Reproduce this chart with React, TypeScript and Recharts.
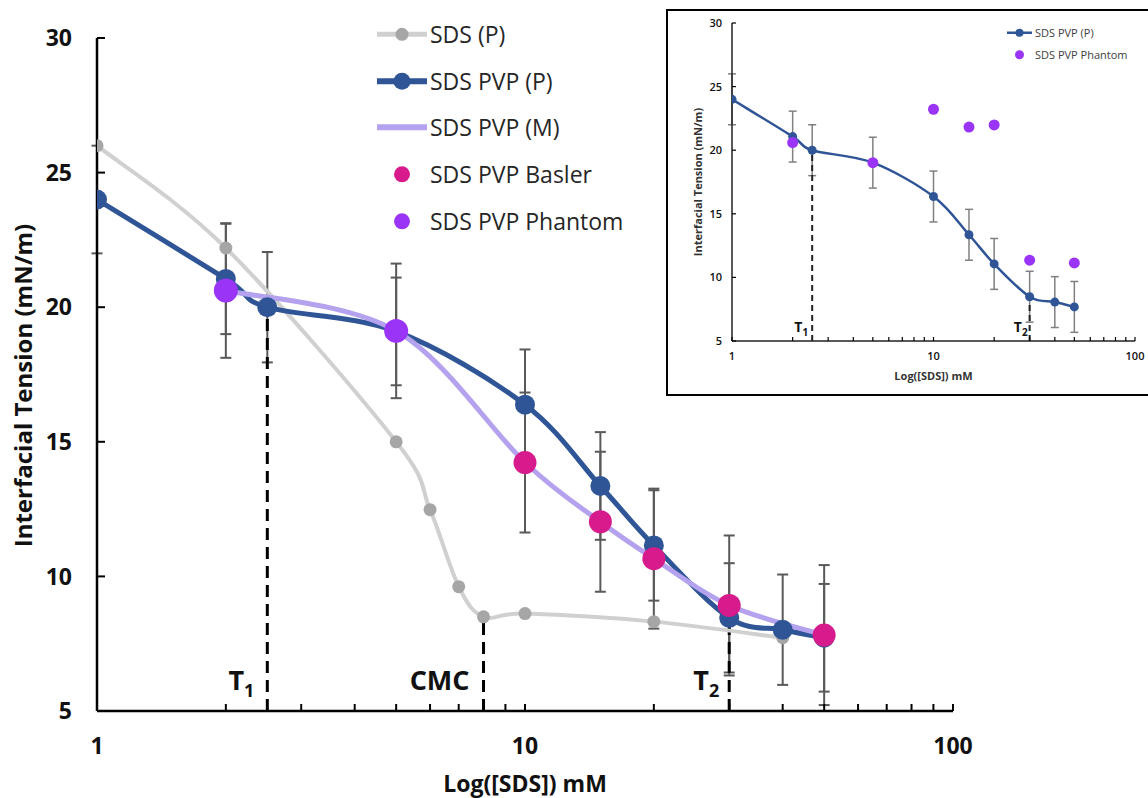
import React from 'react';
import {
  ComposedChart,
  Line,
  XAxis,
  YAxis,
  ErrorBar,
  ReferenceLine,
  ReferenceDot,
  Legend,
  Label,
} from 'recharts';

// ---------- data ----------
const X_TICKS = [1, 2, 3, 4, 5, 6, 7, 8, 9, 10, 20, 30, 40, 50, 60, 70, 80, 90, 100];
const X_LABELS = [1, 10, 100];
const Y_TICKS = [5, 10, 15, 20, 25, 30];

const sdsP = [
  { x: 1, y: 26.0 },
  { x: 2, y: 22.2 },
  { x: 5, y: 15.0 },
  { x: 6, y: 12.48 },
  { x: 7, y: 9.62 },
  { x: 8, y: 8.5 },
  { x: 10, y: 8.62 },
  { x: 20, y: 8.32 },
  { x: 40, y: 7.72 },
];

const sdsPvpP = [
  { x: 1, y: 24.0, e: 2.0 },
  { x: 2, y: 21.05, e: 2.05 },
  { x: 2.5, y: 20.0, e: 2.05 },
  { x: 5, y: 19.1, e: 2.0 },
  { x: 10, y: 16.38, e: 2.05 },
  { x: 15, y: 13.36, e: 2.0 },
  { x: 20, y: 11.15, e: 2.05 },
  { x: 30, y: 8.46, e: 2.03 },
  { x: 40, y: 8.02, e: 2.05 },
  { x: 50, y: 7.72, e: 2.0 },
];

const sdsPvpM = [
  { x: 2, y: 20.62 },
  { x: 5, y: 19.12 },
  { x: 10, y: 14.23 },
  { x: 15, y: 12.03 },
  { x: 20, y: 10.66 },
  { x: 30, y: 8.92 },
  { x: 50, y: 7.82 },
];

const basler = [
  { x: 10, y: 14.23, e: 2.6 },
  { x: 15, y: 12.03, e: 2.6 },
  { x: 20, y: 10.66, e: 2.6 },
  { x: 30, y: 8.92, e: 2.6 },
  { x: 50, y: 7.82, e: 2.6 },
];

const phantom = [
  { x: 2, y: 20.62, e: 2.5 },
  { x: 5, y: 19.12, e: 2.5 },
];

const markers = [
  { x: 2.5, top: 20.0, label: 'T', sub: '1' },
  { x: 8, top: 8.5, label: 'CMC', sub: '' },
  { x: 30, top: 8.46, label: 'T', sub: '2' },
];

// inset data
const insetPvpP = [
  { x: 1, y: 24.0, e: 2 },
  { x: 2, y: 21.07, e: 2 },
  { x: 2.5, y: 20.0, e: 2 },
  { x: 5, y: 19.02, e: 2 },
  { x: 10, y: 16.36, e: 2 },
  { x: 15, y: 13.35, e: 2 },
  { x: 20, y: 11.06, e: 2 },
  { x: 30, y: 8.48, e: 2 },
  { x: 40, y: 8.06, e: 2 },
  { x: 50, y: 7.68, e: 2 },
];

const insetPhantom = [
  { x: 2, y: 20.6 },
  { x: 5, y: 19.02 },
  { x: 10, y: 23.22 },
  { x: 15, y: 21.82 },
  { x: 20, y: 21.99 },
  { x: 30, y: 11.35 },
  { x: 50, y: 11.14 },
];

const insetMarkers = [
  { x: 2.5, top: 20.0, label: 'T', sub: '1' },
  { x: 30, top: 8.48, label: 'T', sub: '2' },
];

const MAIN_LEGEND = [
  { name: 'SDS (P)' },
  { name: 'SDS PVP (P)' },
  { name: 'SDS PVP (M)' },
  { name: 'SDS PVP Basler' },
  { name: 'SDS PVP Phantom' },
];
const INSET_LEGEND = [{ name: 'SDS PVP (P)' }, { name: 'SDS PVP Phantom' }];

// ---------- styles ----------
const FONT = "'Open Sans', 'DejaVu Sans', sans-serif";
const TXT = '#111111';
const GRAY_LINE = '#D0D0D0';
const GRAY_DOT = '#A6A6A6';
const BLUE = '#2F5597';
const LAVENDER = '#B4A2EE';
const MAGENTA = '#D81B8C';
const PURPLE = '#9A35F7';
const ERR = '#595959';

const MAIN_LEGEND_STYLE = [
  { line: GRAY_LINE, lineW: 5, dot: GRAY_DOT, r: 6.5 },
  { line: BLUE, lineW: 6, dot: BLUE, r: 8.5 },
  { line: LAVENDER, lineW: 6, dot: '', r: 0 },
  { line: '', lineW: 0, dot: MAGENTA, r: 8 },
  { line: '', lineW: 0, dot: PURPLE, r: 8 },
];
const INSET_LEGEND_STYLE = [
  { line: BLUE, lineW: 2.5, dot: BLUE, r: 4 },
  { line: '', lineW: 0, dot: PURPLE, r: 4.5 },
];
const MAIN_LABEL_GAP = [13, 14, 10];
const INSET_LABEL_GAP = [4, 2];

// Excel-like smoothed curve (Catmull-Rom through the points)
const excelCurve: any = (context: any) => {
  let pts: number[][] = [];
  return {
    areaStart() {},
    areaEnd() {},
    lineStart() {
      pts = [];
    },
    point(x: number, y: number) {
      pts.push([+x, +y]);
    },
    lineEnd() {
      const n = pts.length;
      if (!n) return;
      context.moveTo(pts[0][0], pts[0][1]);
      for (let i = 0; i < n - 1; i++) {
        const p0 = pts[Math.max(0, i - 1)];
        const p1 = pts[i];
        const p2 = pts[i + 1];
        const p3 = pts[Math.min(n - 1, i + 2)];
        context.bezierCurveTo(
          p1[0] + (p2[0] - p0[0]) / 6,
          p1[1] + (p2[1] - p0[1]) / 6,
          p2[0] - (p3[0] - p1[0]) / 6,
          p2[1] - (p3[1] - p1[1]) / 6,
          p2[0],
          p2[1]
        );
      }
    },
  };
};

// ---------- tick renderers ----------
const makeXTick = (len: number, dyLabel: number, fs: number, fw: number, sw: number) => (props: any) => {
  const { x, y, payload } = props;
  const v = payload.value;
  return (
    <g>
      <line x1={x} x2={x} y1={y} y2={y - len} stroke="#000" strokeWidth={sw} />
      {X_LABELS.includes(v) && (
        <text x={x} y={y + dyLabel} textAnchor="middle" fontSize={fs} fontWeight={fw} fill={TXT} fontFamily={FONT}>
          {v}
        </text>
      )}
    </g>
  );
};

const makeYTick = (len: number, gap: number, fs: number, fw: number, sw: number) => (props: any) => {
  const { x, y, payload } = props;
  return (
    <g>
      <line x1={x} x2={x + len} y1={y} y2={y} stroke="#000" strokeWidth={sw} />
      <text x={x - gap} y={y} dy="0.36em" textAnchor="end" fontSize={fs} fontWeight={fw} fill={TXT} fontFamily={FONT}>
        {payload.value}
      </text>
    </g>
  );
};

const MainXTick = makeXTick(7, 43, 23, 700, 2);
const MainYTick = makeYTick(8, 25, 23, 700, 2);
const InsetXTick = makeXTick(4, 19, 11, 600, 1.2);
const InsetYTick = makeYTick(4, 10, 11, 600, 1.2);

const markerLabel = (m: any, gap: number, fs: number, subFs: number, rise: number, subDy: number) => (p: any) => {
  const { cx, cy } = p;
  return (
    <text x={cx - gap} y={cy - rise} textAnchor="end" fontSize={fs} fontWeight={700} fill={TXT} fontFamily={FONT}>
      {m.label}
      {m.sub ? (
        <tspan fontSize={subFs} dy={subDy}>
          {m.sub}
        </tspan>
      ) : null}
    </text>
  );
};

// ---------- legends ----------
const LegendBox = ({ items, styles, rowH, iconW, fs, color }: any) => (
  <div style={{ fontFamily: FONT, fontSize: fs, color, lineHeight: 1 }}>
    {items.map((it: any, i: number) => {
      const s = styles[i];
      return (
        <div key={it.name} style={{ display: 'flex', alignItems: 'center', height: rowH, whiteSpace: 'nowrap' }}>
          <svg width={iconW} height={rowH} style={{ display: 'block', marginRight: 3 }}>
            {s.line ? (
              <line x1={0} x2={iconW} y1={rowH / 2} y2={rowH / 2} stroke={s.line} strokeWidth={s.lineW} strokeLinecap="round" />
            ) : null}
            {s.dot ? <circle cx={iconW / 2} cy={rowH / 2} r={s.r} fill={s.dot} /> : null}
          </svg>
          <span>{it.name}</span>
        </div>
      );
    })}
  </div>
);

export default function App() {
  return (
    <div
      style={{
        position: 'absolute',
        left: 0,
        top: 0,
        width: 1148,
        height: 798,
        overflow: 'hidden',
        background: '#fff',
      }}
    >
      <ComposedChart width={1148} height={798} margin={{ top: 38, left: 96, right: 195, bottom: 86 }}>
        <XAxis
          type="number"
          dataKey="x"
          scale="log"
          domain={[1, 100]}
          ticks={X_TICKS}
          interval={0}
          allowDataOverflow
          height={1}
          tickSize={0}
          tickMargin={0}
          tickLine={false}
          tick={<MainXTick />}
          axisLine={{ stroke: '#000', strokeWidth: 2.5 }}
        >
          <Label
            content={(p: any) => {
              const vb = p.viewBox || {};
              return (
                <text
                  x={vb.x + vb.width / 2}
                  y={vb.y + 81}
                  textAnchor="middle"
                  fontSize={23}
                  fontWeight={700}
                  fill={TXT}
                  fontFamily={FONT}
                >
                  Log([SDS]) mM
                </text>
              );
            }}
          />
        </XAxis>
        <YAxis
          type="number"
          domain={[5, 30]}
          ticks={Y_TICKS}
          interval={0}
          allowDataOverflow
          width={1}
          tickSize={0}
          tickMargin={0}
          tickLine={false}
          tick={<MainYTick />}
          axisLine={{ stroke: '#000', strokeWidth: 2.5 }}
        >
          <Label
            content={(p: any) => {
              const vb = p.viewBox || {};
              const cx = vb.x + vb.width - 73;
              const cy = vb.y + vb.height / 2 + 11;
              return (
                <text
                  transform={`translate(${cx},${cy}) rotate(-90)`}
                  textAnchor="middle"
                  dy="0.35em"
                  fontSize={24}
                  fontWeight={700}
                  fill={TXT}
                  fontFamily={FONT}
                >
                  Interfacial Tension (mN/m)
                </text>
              );
            }}
          />
        </YAxis>

        {markers.map((m, i) => (
          <ReferenceLine
            key={'rl' + i}
            segment={[
              { x: m.x, y: 5 },
              { x: m.x, y: m.top },
            ]}
            stroke="#000"
            strokeWidth={3}
            strokeDasharray="12 7"
            ifOverflow="visible"
          />
        ))}
        {markers.map((m, i) => (
          <ReferenceDot
            key={'rd' + i}
            x={m.x}
            y={5}
            r={0}
            ifOverflow="visible"
            shape={markerLabel(m, MAIN_LABEL_GAP[i], 27, 18, 21, 7)}
          />
        ))}

        <Line
          data={sdsP}
          dataKey="y"
          type={excelCurve}
          stroke={GRAY_LINE}
          strokeWidth={4}
          dot={{ r: 6.5, fill: GRAY_DOT, stroke: 'none' }}
          activeDot={false}
          isAnimationActive={false}
        />
        <Line
          data={sdsPvpP}
          dataKey="y"
          type={excelCurve}
          stroke={BLUE}
          strokeWidth={5}
          dot={{ r: 10, fill: BLUE, stroke: 'none' }}
          activeDot={false}
          isAnimationActive={false}
        >
          <ErrorBar dataKey="e" direction="y" width={5.5} stroke={ERR} strokeWidth={2} zIndex={-10} isAnimationActive={false} />
        </Line>
        <Line
          data={sdsPvpM}
          dataKey="y"
          type={excelCurve}
          stroke={LAVENDER}
          strokeWidth={5}
          dot={false}
          activeDot={false}
          isAnimationActive={false}
        />
        <Line
          data={basler}
          dataKey="y"
          stroke="none"
          strokeWidth={0}
          dot={{ r: 11.5, fill: MAGENTA, stroke: 'none' }}
          activeDot={false}
          isAnimationActive={false}
        >
          <ErrorBar dataKey="e" direction="y" width={5.5} stroke={ERR} strokeWidth={2} zIndex={-10} isAnimationActive={false} />
        </Line>
        <Line
          data={phantom}
          dataKey="y"
          stroke="none"
          strokeWidth={0}
          dot={{ r: 12, fill: PURPLE, stroke: 'none' }}
          activeDot={false}
          isAnimationActive={false}
        >
          <ErrorBar dataKey="e" direction="y" width={5.5} stroke={ERR} strokeWidth={2} zIndex={-10} isAnimationActive={false} />
        </Line>

        <Legend
          layout="vertical"
          verticalAlign="middle"
          align="center"
          wrapperStyle={{ left: 377, top: 11, width: 320, height: 236 }}
          content={() => (
            <LegendBox items={MAIN_LEGEND} styles={MAIN_LEGEND_STYLE} rowH={46.7} iconW={50} fs={23} color="#262626" />
          )}
        />
      </ComposedChart>

      <div
        style={{
          position: 'absolute',
          left: 666,
          top: 9,
          width: 490,
          height: 387,
          border: '2px solid #000',
          boxSizing: 'border-box',
          background: '#fff',
        }}
      >
        <ComposedChart width={486} height={383} margin={{ top: 12, left: 63, right: 19, bottom: 52 }}>
          <XAxis
            type="number"
            dataKey="x"
            scale="log"
            domain={[1, 100]}
            ticks={X_TICKS}
            interval={0}
            allowDataOverflow
            height={1}
            tickSize={0}
            tickMargin={0}
            tickLine={false}
            tick={<InsetXTick />}
            axisLine={{ stroke: '#222', strokeWidth: 1.5 }}
          >
            <Label
              content={(p: any) => {
                const vb = p.viewBox || {};
                return (
                  <text
                    x={vb.x + vb.width / 2}
                    y={vb.y + 39}
                    textAnchor="middle"
                    fontSize={11}
                    fontWeight={700}
                    fill="#333"
                    fontFamily={FONT}
                  >
                    Log([SDS]) mM
                  </text>
                );
              }}
            />
          </XAxis>
          <YAxis
            type="number"
            domain={[5, 30]}
            ticks={Y_TICKS}
            interval={0}
            allowDataOverflow
            width={1}
            tickSize={0}
            tickMargin={0}
            tickLine={false}
            tick={<InsetYTick />}
            axisLine={{ stroke: '#222', strokeWidth: 1.5 }}
          >
            <Label
              content={(p: any) => {
                const vb = p.viewBox || {};
                const cx = vb.x + vb.width - 34;
                const cy = vb.y + vb.height / 2;
                return (
                  <text
                    transform={`translate(${cx},${cy}) rotate(-90)`}
                    textAnchor="middle"
                    dy="0.35em"
                    fontSize={11}
                    fontWeight={700}
                    fill="#333"
                    fontFamily={FONT}
                  >
                    Interfacial Tension (mN/m)
                  </text>
                );
              }}
            />
          </YAxis>

          {insetMarkers.map((m, i) => (
            <ReferenceLine
              key={'irl' + i}
              segment={[
                { x: m.x, y: 5 },
                { x: m.x, y: m.top },
              ]}
              stroke="#222"
              strokeWidth={2}
              strokeDasharray="6 4"
              ifOverflow="visible"
            />
          ))}
          {insetMarkers.map((m, i) => (
            <ReferenceDot
              key={'ird' + i}
              x={m.x}
              y={5}
              r={0}
              ifOverflow="visible"
              shape={markerLabel(m, INSET_LABEL_GAP[i], 14, 10, 9, 4)}
            />
          ))}

          <Line
            data={insetPvpP}
            dataKey="y"
            type={excelCurve}
            stroke={BLUE}
            strokeWidth={2.5}
            dot={{ r: 4.5, fill: BLUE, stroke: 'none' }}
            activeDot={false}
            isAnimationActive={false}
          >
            <ErrorBar dataKey="e" direction="y" width={4} stroke="#808080" strokeWidth={1.5} zIndex={-10} isAnimationActive={false} />
          </Line>
          <Line
            data={insetPhantom}
            dataKey="y"
            stroke="none"
            strokeWidth={0}
            dot={{ r: 5.5, fill: PURPLE, stroke: 'none' }}
            activeDot={false}
            isAnimationActive={false}
          />

          <Legend
            layout="vertical"
            verticalAlign="middle"
            align="center"
            wrapperStyle={{ left: 339, top: 11, width: 140, height: 44 }}
            content={() => (
              <LegendBox items={INSET_LEGEND} styles={INSET_LEGEND_STYLE} rowH={21.6} iconW={25} fs={11} color="#404040" />
            )}
          />
        </ComposedChart>
      </div>
    </div>
  );
}
